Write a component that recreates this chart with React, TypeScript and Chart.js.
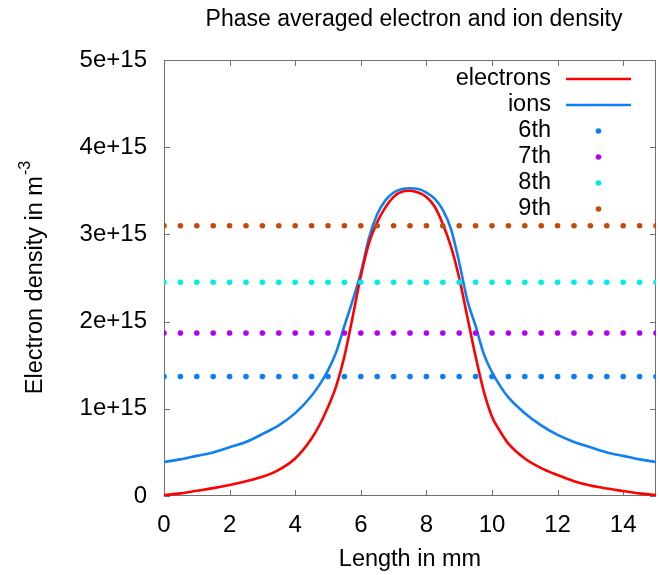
import { useEffect, useRef } from 'react';
import { Chart, registerables } from 'chart.js';

Chart.register(...registerables);

const TITLE = 'Phase averaged electron and ion density';
const X_TITLE = 'Length in mm';
const Y_TITLE = 'Electron density in m';
const Y_TITLE_SUP = '-3';
const FONT = '"Liberation Sans", Arial, sans-serif';

// x positions (mm) of the curve samples
const xPositions = [
  0, 0.5, 1, 1.5, 2, 2.5, 3, 3.5, 4, 4.5, 4.75, 5, 5.25, 5.5, 5.75, 6, 6.25, 6.5, 6.75, 7,
  7.25, 7.5, 7.75, 8, 8.25, 8.5, 8.75, 9, 9.25, 9.5, 9.75, 10, 10.25, 10.5, 11, 11.5, 12,
  12.5, 13, 13.5, 14, 14.5, 15,
];
// densities in units of 1e15 m^-3
const electrons = [
  0.01, 0.03, 0.06, 0.09, 0.126, 0.17, 0.22, 0.3, 0.43, 0.66, 0.82, 1.02, 1.26, 1.6, 2.05,
  2.52, 2.9, 3.14, 3.31, 3.43, 3.49, 3.5, 3.48, 3.43, 3.32, 3.12, 2.86, 2.5, 2.05, 1.6, 1.2,
  0.91, 0.74, 0.6, 0.43, 0.32, 0.24, 0.17, 0.12, 0.085, 0.057, 0.03, 0.01,
];
const ions = [
  0.39, 0.42, 0.46, 0.5, 0.56, 0.62, 0.71, 0.81, 0.95, 1.15, 1.28, 1.44, 1.65, 1.95, 2.24,
  2.56, 2.96, 3.23, 3.39, 3.48, 3.52, 3.53, 3.52, 3.48, 3.41, 3.28, 3.06, 2.68, 2.24, 1.95,
  1.63, 1.42, 1.26, 1.13, 0.95, 0.81, 0.7, 0.62, 0.56, 0.5, 0.46, 0.42, 0.39,
];

// dotted horizontal levels
const dotX = [
  0, 0.5, 1, 1.5, 2, 2.5, 3, 3.5, 4, 4.5, 5, 5.5, 6, 6.5, 7, 7.5, 8, 8.5, 9, 9.5, 10, 10.5,
  11, 11.5, 12, 12.5, 13, 13.5, 14, 14.5, 15,
];
const levelLabels = ['6th', '7th', '8th', '9th'];
const levelValues = [1.37, 1.87, 2.45, 3.1];
const levelColors = ['#0a7ef5', '#b400f0', '#00ecec', '#c04a0a'];

const xTicks = [0, 2, 4, 6, 8, 10, 12, 14];
const yTicks = [0, 1, 2, 3, 4, 5];

const ELECTRON_COLOR = '#ff0000';
const ION_COLOR = '#0f80f2';

const TXT = 23.5;

const decorPlugin = {
  id: 'decor',
  beforeDatasetsDraw(chart: any) {
    const { ctx, chartArea: a, scales } = chart;
    ctx.save();
    ctx.strokeStyle = '#707070';
    ctx.lineWidth = 1;
    ctx.beginPath();
    ctx.rect(a.left + 0.5, a.top + 0.5, a.right - a.left - 1, a.bottom - a.top - 1);
    ctx.stroke();
    ctx.beginPath();
    const tl = 6;
    xTicks.forEach((v) => {
      const px = Math.round(scales.x.getPixelForValue(v)) + 0.5;
      ctx.moveTo(px, a.bottom);
      ctx.lineTo(px, a.bottom - tl);
      ctx.moveTo(px, a.top);
      ctx.lineTo(px, a.top + tl);
    });
    yTicks.forEach((v) => {
      const py = Math.round(scales.y.getPixelForValue(v)) + 0.5;
      ctx.moveTo(a.left, py);
      ctx.lineTo(a.left + tl, py);
      ctx.moveTo(a.right, py);
      ctx.lineTo(a.right - tl, py);
    });
    ctx.stroke();
    ctx.restore();
  },
  afterDraw(chart: any) {
    const { ctx, chartArea: a, data } = chart;
    ctx.save();
    ctx.fillStyle = '#000';
    ctx.textBaseline = 'middle';
    ctx.textAlign = 'center';
    ctx.font = `23px ${FONT}`;
    ctx.fillText(TITLE, 414, 20);
    ctx.font = `${TXT}px ${FONT}`;
    ctx.fillText(X_TITLE, (a.left + a.right) / 2, 560);

    // y title, rotated, with superscript
    ctx.save();
    ctx.translate(36, (a.top + a.bottom) / 2);
    ctx.rotate(-Math.PI / 2);
    ctx.font = `${TXT}px ${FONT}`;
    const w1 = ctx.measureText(Y_TITLE).width;
    ctx.font = `16px ${FONT}`;
    const w2 = ctx.measureText(Y_TITLE_SUP).width;
    const start = -(w1 + w2) / 2;
    ctx.textAlign = 'left';
    ctx.font = `${TXT}px ${FONT}`;
    ctx.fillText(Y_TITLE, start, 0);
    ctx.font = `16px ${FONT}`;
    ctx.fillText(Y_TITLE_SUP, start + w1 + 1, -10);
    ctx.restore();

    // legend
    const textRight = 551;
    const sx0 = 566;
    const sx1 = 631;
    const rowY0 = 78;
    const rowH = 26;
    ctx.font = `${TXT}px ${FONT}`;
    ctx.textAlign = 'right';
    data.datasets.forEach((ds: any, i: number) => {
      const y = rowY0 + i * rowH;
      ctx.fillStyle = '#000';
      ctx.fillText(ds.label, textRight, y + 1);
      if (ds.showLine === false) {
        ctx.fillStyle = ds.backgroundColor;
        ctx.beginPath();
        ctx.arc((sx0 + sx1) / 2, y + 1, 2.8, 0, Math.PI * 2);
        ctx.fill();
      } else {
        ctx.strokeStyle = ds.borderColor;
        ctx.lineWidth = 2.5;
        ctx.beginPath();
        ctx.moveTo(sx0, y + 1);
        ctx.lineTo(sx1, y + 1);
        ctx.stroke();
      }
    });
    ctx.restore();
  },
};

export default function App() {
  const ref = useRef<HTMLCanvasElement | null>(null);

  useEffect(() => {
    document.body.style.margin = '0';
    const canvas = ref.current;
    if (!canvas) return;

    const lineDs = (label: string, ys: number[], color: string, order: number) => ({
      label,
      data: xPositions.map((x, i) => ({ x, y: ys[i] })),
      borderColor: color,
      backgroundColor: color,
      borderWidth: 2.6,
      pointRadius: 0,
      cubicInterpolationMode: 'monotone',
      showLine: true,
      order,
    });

    const dotDs = levelLabels.map((label, i) => ({
      label,
      data: dotX.map((x) => ({ x, y: levelValues[i] })),
      borderColor: levelColors[i],
      backgroundColor: levelColors[i],
      pointRadius: 2.8,
      pointBorderWidth: 0,
      pointStyle: 'circle',
      showLine: false,
      order: 4 - i,
    }));

    const chart = new Chart(canvas, {
      type: 'scatter',
      data: {
        datasets: [
          lineDs('electrons', electrons, ELECTRON_COLOR, 5),
          lineDs('ions', ions, ION_COLOR, 6),
          ...dotDs,
        ] as any,
      },
      options: {
        animation: false,
        responsive: false,
        maintainAspectRatio: false,
        layout: { padding: { top: 60, right: 2, left: 0, bottom: 0 } },
        plugins: {
          legend: { display: false },
          title: { display: false },
          tooltip: { enabled: false },
        },
        scales: {
          x: {
            type: 'linear',
            min: 0,
            max: 15,
            grid: { display: false },
            border: { display: false },
            afterFit: (s: any) => {
              s.height = 79;
            },
            ticks: {
              stepSize: 2,
              includeBounds: false,
              color: '#000',
              padding: 7,
              maxRotation: 0,
              font: { family: FONT, size: 24 },
            },
          },
          y: {
            type: 'linear',
            min: 0,
            max: 5,
            grid: { display: false },
            border: { display: false },
            afterFit: (s: any) => {
              s.width = 164;
            },
            ticks: {
              stepSize: 1,
              color: '#000',
              padding: 9,
              font: { family: FONT, size: 24 },
              callback: (v: any) => (v === 0 ? '0' : `${v}e+15`),
            },
          },
        },
      } as any,
      plugins: [decorPlugin],
    });

    return () => chart.destroy();
  }, []);

  return (
    <div style={{ width: 660, height: 575 }}>
      <canvas ref={ref} width={660} height={575} style={{ display: 'block' }} />
    </div>
  );
}
